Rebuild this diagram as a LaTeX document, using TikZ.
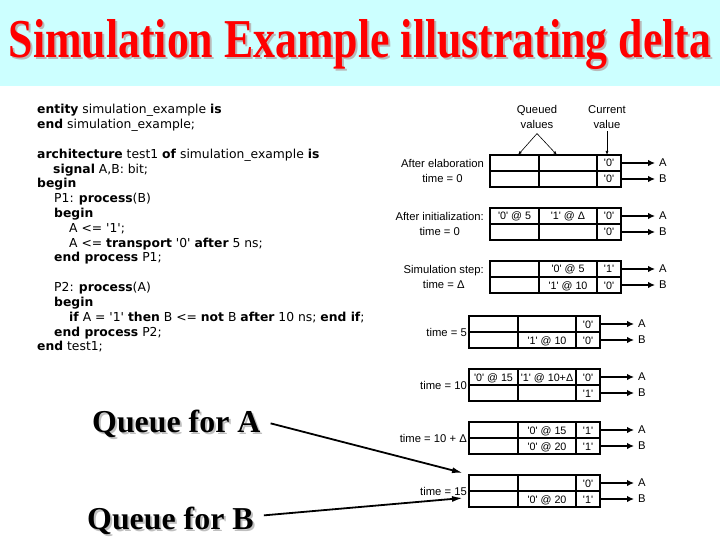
\documentclass[tikz,border=0pt]{standalone}
\usepackage{fontspec}
\setmainfont{Liberation Serif}
\newfontfamily\codefont{DejaVu Sans}
\newfontfamily\diafont{Liberation Sans}
\usetikzlibrary{arrows.meta}
\definecolor{band}{HTML}{CCFFFF}
\definecolor{titlered}{HTML}{FF0000}
\newcommand\myq{\textquotesingle}
\newcommand\qtable[9]{%
\begin{scope}[shift={(#2,#3)}]
\draw[tbl] (0,0) rectangle (131,32);
\draw[tbl] (0,16) -- (131,16) (49,0) -- (49,32) (107,0) -- (107,32);
\node[cell] (#1-a1) at (24.5,12) {#4};
\node[cell] (#1-a2) at (78,12) {#5};
\node[cell] (#1-a3) at (119,12) {#6};
\node[cell] (#1-b1) at (24.5,28) {#7};
\node[cell] (#1-b2) at (78,28) {#8};
\node[cell] (#1-b3) at (119,28) {#9};
\coordinate (#1-ra) at (131,8);
\coordinate (#1-rb) at (131,24);
\node[sig] (#1-A) at (165,8) {A};
\node[sig] (#1-B) at (165,24) {B};
\draw[sigarrow] (#1-ra) -- (#1-A);
\draw[sigarrow] (#1-rb) -- (#1-B);
\end{scope}}
\begin{document}
\begin{tikzpicture}[x=1bp,y=-1bp,
 code/.style={anchor=base west, inner sep=0pt, font=\codefont\fontsize{12.4}{14}\selectfont},
 tbl/.style={line width=2bp},
 cell/.style={anchor=base, inner sep=0pt, font=\diafont\fontsize{10.8}{13}\selectfont},
 lab/.style={inner sep=0pt, align=center, font=\diafont\fontsize{11.3}{14.5}\selectfont},
 sig/.style={anchor=west, inner sep=4bp, font=\diafont\fontsize{11.3}{13}\selectfont},
 sigarrow/.style={line width=2.5bp, -{Latex[length=7bp,width=6.5bp]}},
 thinarrow/.style={line width=0.6bp, -{Latex[length=4bp,width=3bp]}},
 bigarrow/.style={line width=1.8bp, -{Latex[length=11bp,width=6bp]}},
 queue/.style={anchor=base west, inner sep=0pt, font=\fontsize{32}{36}\selectfont\bfseries},
 ttl/.style={anchor=base, inner sep=0pt, font=\fontsize{44}{50}\selectfont\bfseries}
]
\useasboundingbox (0,0) rectangle (720,540);
\fill[white] (0,0) rectangle (720,540);
\fill[band] (0,0) rectangle (720,86);
% title
\node[ttl, text=gray!55] (titleshadow) at (362,60) {\scalebox{1}[1.25]{Simulation Example illustrating delta}};
\node[ttl, text=titlered] (title) at (360,58) {\scalebox{1}[1.25]{Simulation Example illustrating delta}};
% code
\node[code] (c1) at (37,114) {\textbf{entity} simulation\_example \textbf{is}};
\node[code] (c2) at (37,128.8) {\textbf{end} simulation\_example;};
\node[code] (c3) at (37,158.4) {\textbf{architecture} test1 \textbf{of} simulation\_example \textbf{is}};
\node[code] (c4) at (53,173.2) {\textbf{signal} A,B: bit;};
\node[code] (c5) at (37,188) {\textbf{begin}};
\node[code] (c6) at (54,202.8) {P1: \textbf{process}(B)};
\node[code] (c7) at (54,217.6) {\textbf{begin}};
\node[code] (c8) at (69,232.4) {A <= \myq1\myq;};
\node[code] (c9) at (69,247.2) {A <= \textbf{transport} \myq0\myq{} \textbf{after} 5 ns;};
\node[code] (c10) at (54,262) {\textbf{end process} P1;};
\node[code] (c11) at (54,291.6) {P2: \textbf{process}(A)};
\node[code] (c12) at (54,306.4) {\textbf{begin}};
\node[code] (c13) at (69,321.2) {\textbf{if} A = \myq1\myq{} \textbf{then} B <= \textbf{not} B \textbf{after} 10 ns; \textbf{end if};};
\node[code] (c14) at (54,336) {\textbf{end process} P2;};
\node[code] (c15) at (37,350.8) {\textbf{end} test1;};
% annotations
\node[lab] (queued) at (537,117) {Queued\\values};
\node[lab] (current) at (607,117) {Current\\value};
\coordinate (qtip1) at (518,155);
\coordinate (qtip2) at (557,155);
\coordinate (ctip) at (607,155);
\draw[thinarrow] ([yshift=-5bp]queued.south) -- (qtip1);
\draw[thinarrow] ([yshift=-5bp]queued.south) -- (qtip2);
\draw[thinarrow] ([yshift=-3bp]current.south) -- (ctip);
% tables
\qtable{t1}{490}{155}{}{}{\myq0\myq}{}{}{\myq0\myq}
\qtable{t2}{490}{208}{\myq0\myq{} @ 5}{\myq1\myq{} @ Δ}{\myq0\myq}{}{}{\myq0\myq}
\qtable{t3}{490}{261}{}{\myq0\myq{} @ 5}{\myq1\myq}{}{\myq1\myq{} @ 10}{\myq0\myq}
\qtable{t4}{469}{316}{}{}{\myq0\myq}{}{\myq1\myq{} @ 10}{\myq0\myq}
\qtable{t5}{469}{369}{\myq0\myq{} @ 15}{\myq1\myq{} @ 10+Δ}{\myq0\myq}{}{}{\myq1\myq}
\qtable{t6}{469}{422}{}{\myq0\myq{} @ 15}{\myq1\myq}{}{\myq0\myq{} @ 20}{\myq1\myq}
\qtable{t7}{469}{475}{}{}{\myq0\myq}{}{\myq0\myq{} @ 20}{\myq1\myq}
% table labels
\node[lab, anchor=east] (l1) at (484,171) {After elaboration\\time = 0};
\node[lab, anchor=east] (l2) at (484,224) {After initialization:\\time = 0};
\node[lab, anchor=east] (l3) at (484,277) {Simulation step:\\time = Δ};
\node[lab, anchor=east] (l4) at (467,332) {time = 5};
\node[lab, anchor=east] (l5) at (467,385) {time = 10};
\node[lab, anchor=east] (l6) at (467,438) {time = 10 + Δ};
\node[lab, anchor=east] (l7) at (467,491) {time = 15};
% queue labels
\node[queue, text=gray!50] (qashadow) at (94,434) {Queue for A};
\node[queue] (qa) at (92,432) {Queue for A};
\node[queue, text=gray!50] (qbshadow) at (89,531) {Queue for B};
\node[queue] (qb) at (87,529) {Queue for B};
\coordinate (qatip) at (463,473);
\coordinate (qbtip) at (463,498);
\draw[bigarrow] ([xshift=10bp]qa.east) -- (qatip);
\draw[bigarrow] ([xshift=10bp,yshift=5bp]qb.east) -- (qbtip);
\end{tikzpicture}
\end{document}
